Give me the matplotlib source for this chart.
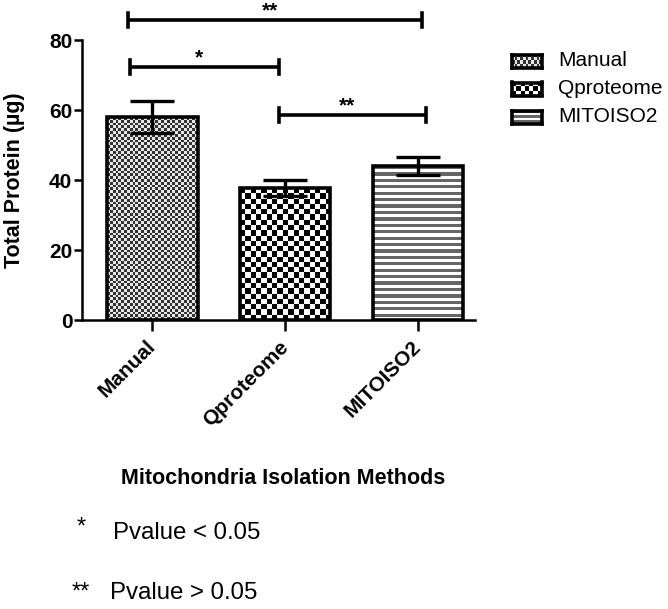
import numpy as np
import matplotlib
matplotlib.use("Agg")
import matplotlib.pyplot as plt

plt.rcParams['font.family'] = ['Liberation Sans', 'DejaVu Sans']

categories = ["Manual", "Qproteome", "MITOISO2"]
means = [58.0, 37.7, 44.0]
errors = [4.5, 2.3, 2.7]
yticks = [0, 20, 40, 60, 80]
# significance brackets: (left pos, right pos, height, label)
brackets = [(-0.18, 2.03, 85.7, "**"), (-0.165, 0.95, 72.3, "*"), (0.95, 2.06, 58.6, "**")]
note_symbols = ["*", "**"]
note_texts = ["Pvalue < 0.05", "Pvalue > 0.05"]

W, H = 668, 609
fig = plt.figure(figsize=(W / 100, H / 100), dpi=100)
ax = fig.add_axes([82 / W, (H - 320) / H, (475 - 82) / W, 280 / H])

x = np.arange(len(categories))
bars = ax.bar(x, means, width=0.68, fill=False, edgecolor='black', linewidth=2.6, zorder=3)


def checker(nr, nc, a, b):
    r = np.arange(nr)[:, None]
    c = np.arange(nc)[None, :]
    return np.where((r + c) % 2 == 0, a, b)


px_x = 133.0  # pixels per x unit
px_y = 3.5    # pixels per y unit
for i, bar in enumerate(bars):
    x0, w, h = bar.get_x(), bar.get_width(), bar.get_height()
    wpx, hpx = w * px_x, h * px_y
    if i == 0:
        cell = 2.8
        img = checker(int(hpx / cell), int(wpx / cell), 0.2, 0.9)
    elif i == 1:
        cell = 5.2
        img = checker(int(hpx / cell), int(wpx / cell), 0.0, 1.0)
    else:
        per = 6.4
        n = int(hpx / per * 2)
        img = np.array([[0.4] if k % 2 == 0 else [1.0] for k in range(n)])
    ax.imshow(img, cmap='gray', vmin=0, vmax=1, extent=(x0, x0 + w, 0, h),
              aspect='auto', interpolation='nearest', zorder=2)

ax.set_aspect('auto')
ax.set_xlim(-0.53, 2.43)
ax.set_ylim(0, 80)

ax.errorbar(x, means, yerr=errors, fmt='none', ecolor='black', elinewidth=2.4,
            capsize=16, capthick=2.4, zorder=4)

for xl, xr, yy, lab in brackets:
    ax.plot([xl, xr], [yy, yy], color='black', lw=2.6, clip_on=False, zorder=5,
            solid_capstyle='butt')
    for xe in (xl, xr):
        ax.plot([xe, xe], [yy - 2.0, yy + 2.0], color='black', lw=2.6, clip_on=False, zorder=5)
    ax.text((xl + xr) / 2 - 0.04, yy + 1.0, lab, ha='center', va='baseline', fontsize=15,
            fontweight='bold', clip_on=False)

for s in ['top', 'right']:
    ax.spines[s].set_visible(False)
for s in ['left', 'bottom']:
    ax.spines[s].set_linewidth(1.8)

ax.set_yticks(yticks)
ax.set_yticklabels([str(t) for t in yticks], fontsize=15, fontweight='bold')
ax.set_xticks(x)
ax.set_xticklabels(categories, rotation=45, ha='right', va='center', rotation_mode='anchor',
                   fontsize=15, fontweight='bold')
ax.tick_params(axis='y', length=6, width=1.8, pad=1)
ax.tick_params(axis='x', length=8, width=1.8, pad=9)
ax.set_ylabel("Total Protein (\u00b5g)", fontsize=15.5, fontweight='bold')
ax.yaxis.set_label_coords(25 / W, (H - 180) / H, transform=fig.transFigure)

fig.text(283 / W, 1 - 478 / H, "Mitochondria Isolation Methods", ha='center', va='center',
         fontsize=15.5, fontweight='bold')
fig.text(81 / W, 1 - 528 / H, note_symbols[0], ha='center', va='center', fontsize=17)
fig.text(113 / W, 1 - 533 / H, note_texts[0], ha='left', va='center', fontsize=17.3)
fig.text(81 / W, 1 - 593 / H, note_symbols[1], ha='center', va='center', fontsize=17)
fig.text(110 / W, 1 - 593 / H, note_texts[1], ha='left', va='center', fontsize=17.3)

# legend built from swatches
leg_y = [61, 89, 117]
for i, (cat, yy) in enumerate(zip(categories, leg_y)):
    sw = fig.add_axes([512 / W, 1 - (yy + 6.5) / H, 30 / W, 13 / H])
    if i == 0:
        img = checker(4, 11, 0.2, 0.9)
    elif i == 1:
        img = checker(3, 7, 0.0, 1.0)
    else:
        img = np.array([[0.4], [1.0], [0.4], [1.0], [0.4]])
    sw.imshow(img, cmap='gray', vmin=0, vmax=1, aspect='auto', interpolation='nearest')
    sw.set_xticks([])
    sw.set_yticks([])
    for s in sw.spines.values():
        s.set_linewidth(2.6)
    fig.text(558 / W, 1 - yy / H, cat, ha='left', va='center', fontsize=15)

fig.savefig("out.png", dpi=100)
